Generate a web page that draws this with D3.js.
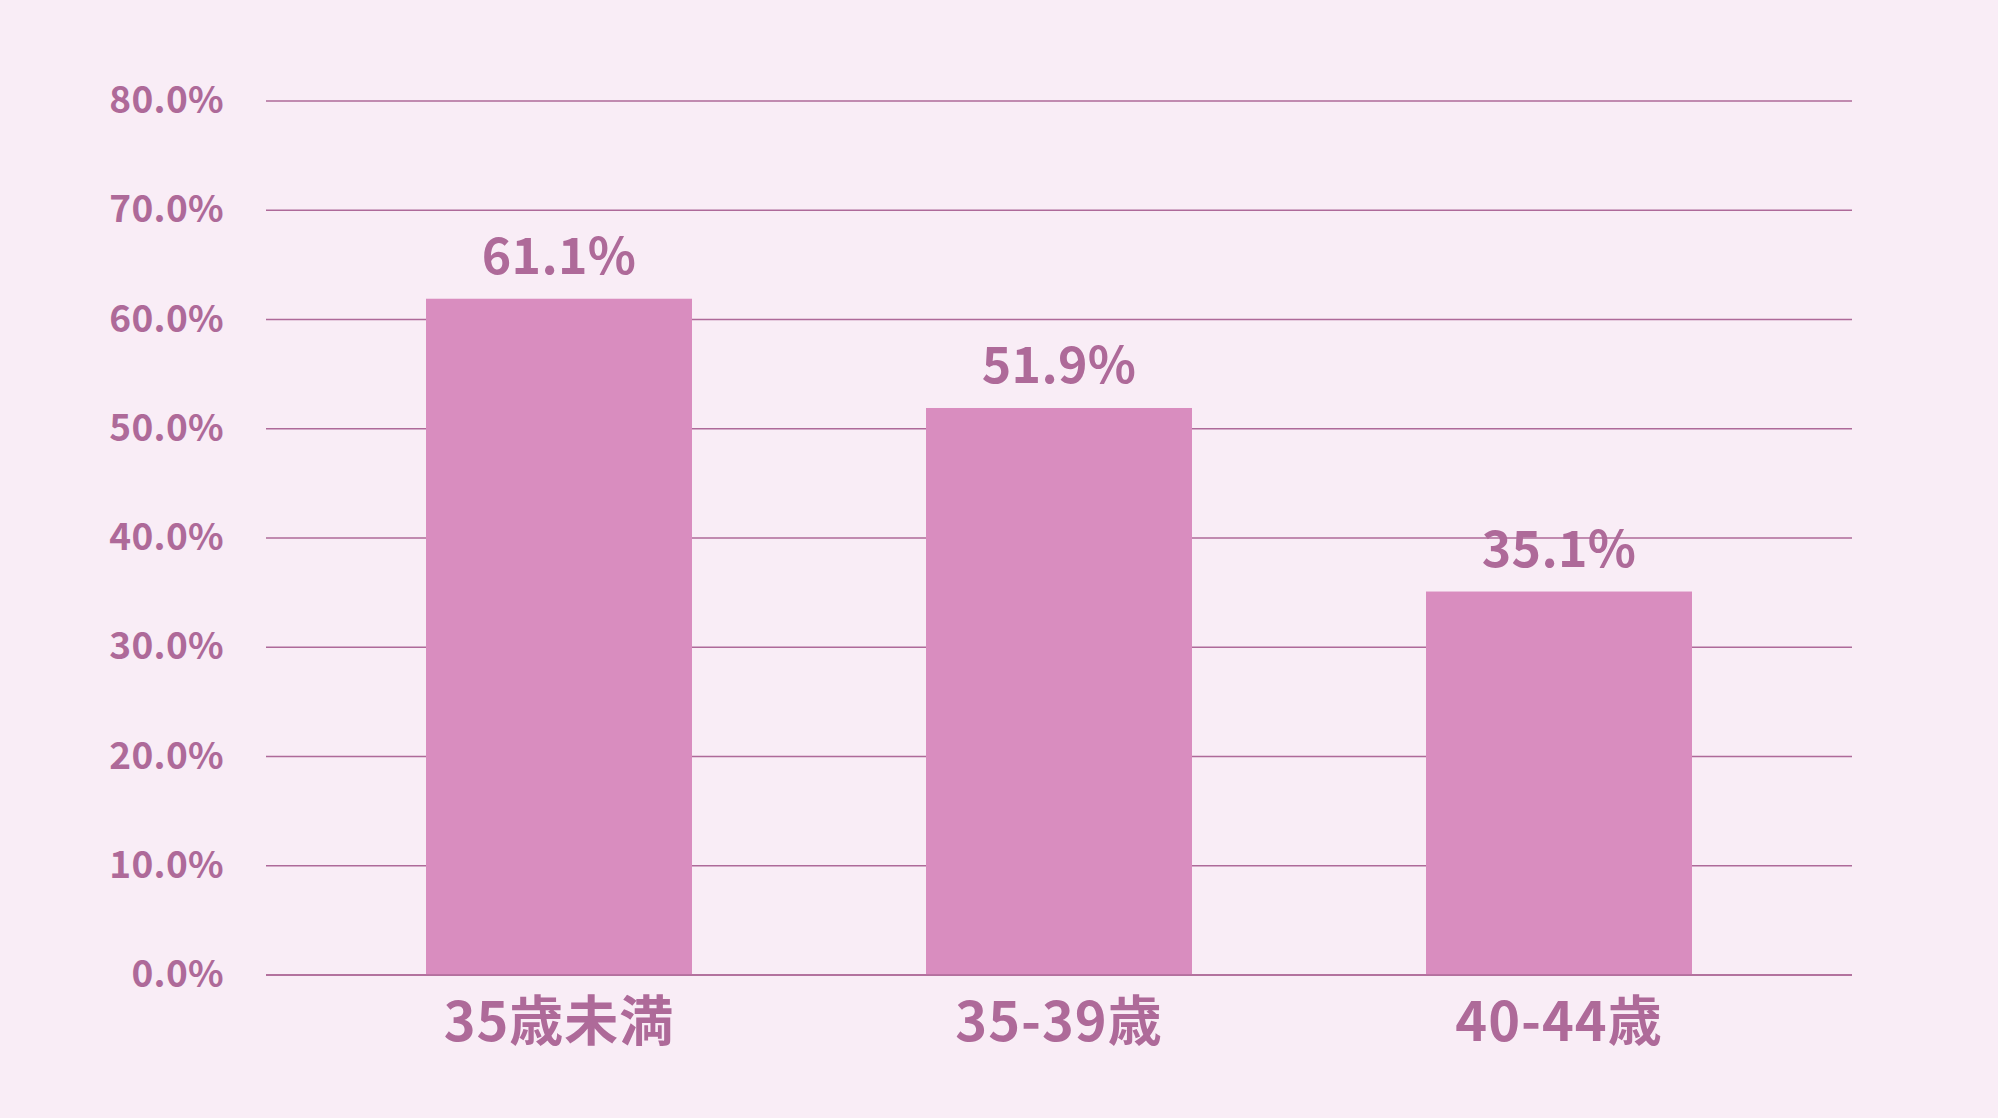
<!DOCTYPE html>
<html><head><meta charset="utf-8">
<script src="https://cdn.jsdelivr.net/npm/d3@7/dist/d3.min.js"></script>
<style>
html,body{margin:0;padding:0;background:#F9EDF6;}
svg{display:block;}
text{font-family:"Noto Sans CJK JP","Noto Sans",sans-serif;font-weight:700;fill:#AE6A99;}
</style></head>
<body>
<svg id="chart" width="1998" height="1118"></svg>
<script>
const categories = ["35歳未満", "35-39歳", "40-44歳"];
// bar heights as drawn in the picture
const values = [61.9, 51.9, 35.1];
// value labels as printed in the picture
const valueLabels = ["61.1%", "51.9%", "35.1%"];
const yTicks = [0, 10, 20, 30, 40, 50, 60, 70, 80];

const svg = d3.select("#chart");
svg.append("rect").attr("width",1998).attr("height",1118).attr("fill","#F9EDF6");

const y = d3.scaleLinear().domain([0, 80]).range([975, 101]);
const x = d3.scaleBand().domain(categories).range([309, 1809]).paddingInner(0.468).paddingOuter(0.234);
const gridX0 = 266, gridX1 = 1852;

svg.append("g").selectAll("line").data(yTicks).join("line")
  .attr("x1", gridX0).attr("x2", gridX1)
  .attr("y1", d => y(d)).attr("y2", d => y(d))
  .attr("stroke", "#AE6A99").attr("stroke-width", 1.6);

svg.append("g").selectAll("text").data(yTicks).join("text")
  .attr("x", 224).attr("y", d => y(d) + 12)
  .attr("text-anchor", "end")
  .attr("font-size", 37).attr("letter-spacing", 0.3)
  .text(d => d.toFixed(1) + "%");

svg.append("g").selectAll("rect").data(values).join("rect")
  .attr("x", (d,i) => x(categories[i]))
  .attr("width", x.bandwidth())
  .attr("y", d => y(d))
  .attr("height", d => y(0) - y(d))
  .attr("fill", "#D98DBF");

svg.append("line").attr("x1", gridX0).attr("x2", gridX1)
  .attr("y1", y(0)).attr("y2", y(0))
  .attr("stroke", "#AE6A99").attr("stroke-width", 1.6);

svg.append("g").selectAll("text").data(values).join("text")
  .attr("x", (d,i) => x(categories[i]) + x.bandwidth()/2)
  .attr("y", d => y(d) - 25)
  .attr("text-anchor", "middle")
  .attr("font-size", 50).attr("letter-spacing", 0.3)
  .text((d,i) => valueLabels[i]);

svg.append("g").selectAll("text").data(categories).join("text")
  .attr("x", d => x(d) + x.bandwidth()/2)
  .attr("y", y(0) + 66)
  .attr("text-anchor", "middle")
  .attr("font-size", 54).attr("letter-spacing", 1)
  .text(d => d);
</script>
</body></html>
